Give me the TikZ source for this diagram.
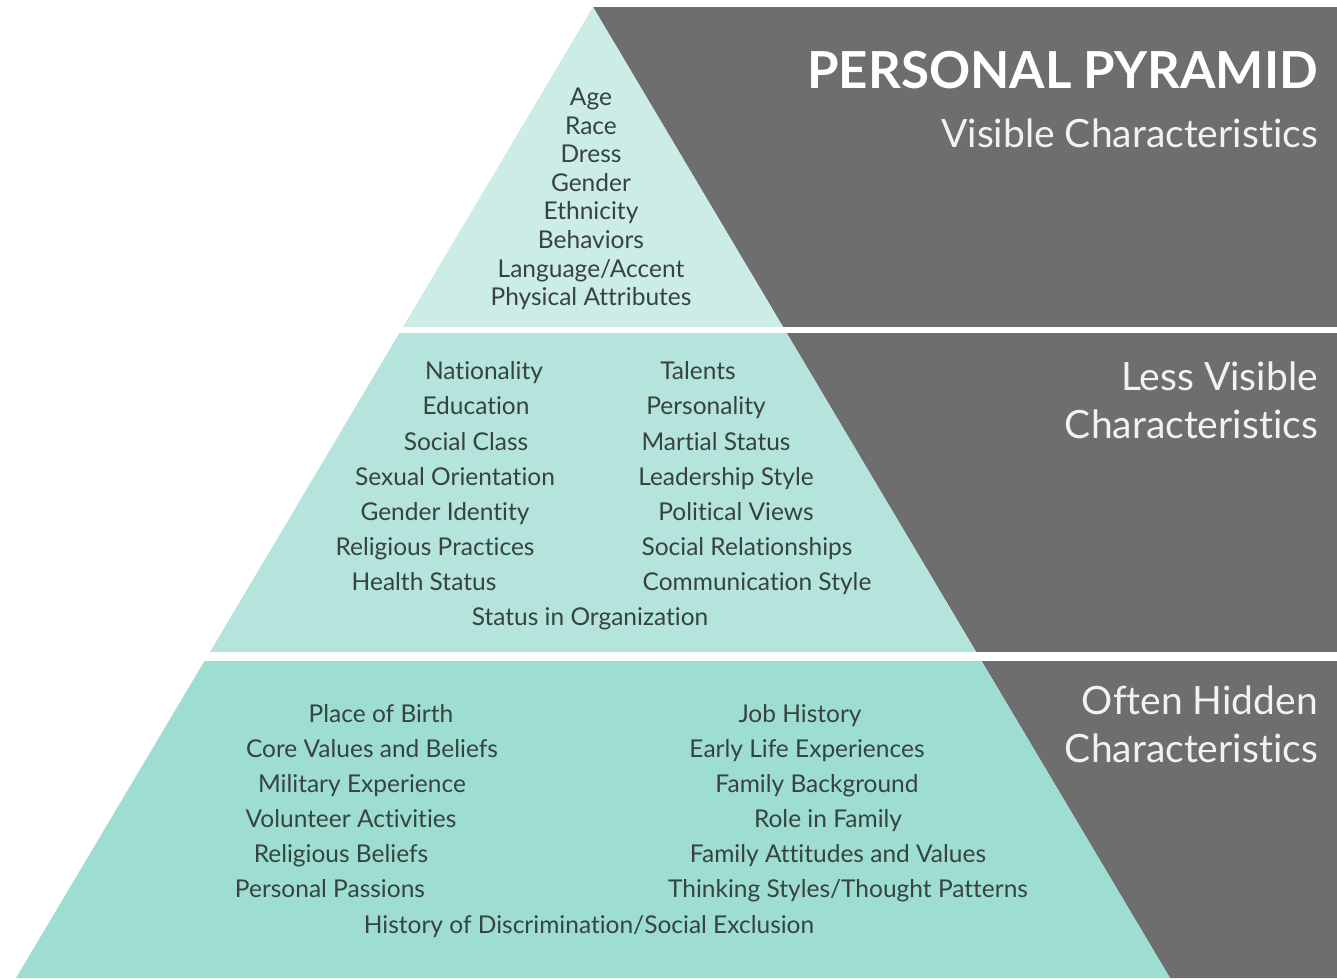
\documentclass[tikz,border=0pt]{standalone}
\usepackage{fontspec}
\setmainfont{Lato}[Ligatures=NoCommon]
\definecolor{tierTop}{HTML}{CCECE6}
\definecolor{tierMid}{HTML}{B4E4DB}
\definecolor{tierLow}{HTML}{9EDDD2}
\definecolor{darkgrey}{HTML}{6E6E6E}
\definecolor{itemtext}{HTML}{36433F}
\definecolor{subtext}{HTML}{F2F2F2}
\tikzset{
  item/.style={inner sep=0pt, text height=17pt, text depth=0pt, text=itemtext, font=\fontsize{24.5}{28}\selectfont},
  heading/.style={anchor=east, inner sep=0pt, text=white, font=\fontsize{51}{56}\bfseries},
  subhead/.style={anchor=east, inner sep=0pt, text=subtext, font=\fontsize{39}{48.5}\selectfont}
}
\begin{document}
\begin{tikzpicture}[x=1pt,y=-1pt]
          \useasboundingbox (0,0) rectangle (1337,978);
          % grey backdrop and white bands
          \fill [darkgrey] (593,7) -- (1337,7) -- (1337,978) -- (1170,978) -- cycle;
          \fill [white] (0,327) rectangle (1337,333);
          \fill [white] (0,652) rectangle (1337,661);

          % the three tiers
          \fill [tierTop] (593,7) -- (783,327) -- (403,327) -- cycle;
          \fill [tierMid] (399.4,333) -- (786.6,333) -- (976,652) -- (210,652) -- cycle;
          \fill [tierLow] (204.5,661) -- (981.5,661) -- (1170,978) -- (16,978) -- cycle;

          % visible
          \foreach \txt [count=\i] in {Age, Race, Dress, Gender, Ethnicity, Behaviors, Language/Accent, Physical Attributes}
            \node [item] (vis\i) at (591,{68.4+28.6*\i}) {\txt};

          % less visible
          \foreach \x/\txt [count=\i] in {484/Nationality, 476/Education, 466/Social Class, 455/Sexual Orientation,
              445/Gender Identity, 435/Religious Practices, 424/Health Status}
            \node [item] (lessL\i) at (\x,{336+35.2*\i}) {\txt};
          \foreach \x/\txt [count=\i] in {698/Talents, 706/Personality, 716/Martial Status, 726/Leadership Style,
              736/Political Views, 747/Social Relationships, 757/Communication Style}
            \node [item] (lessR\i) at (\x,{336+35.2*\i}) {\txt};
          \node [item] (status) at (590,617) {Status in Organization};

          % often hidden
          \foreach \x/\txt [count=\i] in {381/Place of Birth, 372/Core Values and Beliefs, 362/Military Experience,
              351/Volunteer Activities, 341/Religious Beliefs, 330/Personal Passions}
            \node [item] (hidL\i) at (\x,{679+35*\i}) {\txt};
          \foreach \x/\txt [count=\i] in {800/Job History, 807/Early Life Experiences, 817/Family Background,
              828/Role in Family, 838/Family Attitudes and Values, 848/{Thinking Styles/Thought Patterns}}
            \node [item] (hidR\i) at (\x,{679+35*\i}) {\txt};
          \node [item] (excl) at (589,925) {History of Discrimination/Social Exclusion};

          % headings on the right
          \node [heading] (title) at (1318,70) {PERSONAL PYRAMID};
          \node [subhead] (visible) at (1318,133) {Visible Characteristics};
          \node [subhead, align=right] (less) at (1318,400.5) {Less Visible\\Characteristics};
          \node [subhead, align=right] (hidden) at (1318,724.5) {Often Hidden\\Characteristics};
        \end{tikzpicture}
\end{document}
